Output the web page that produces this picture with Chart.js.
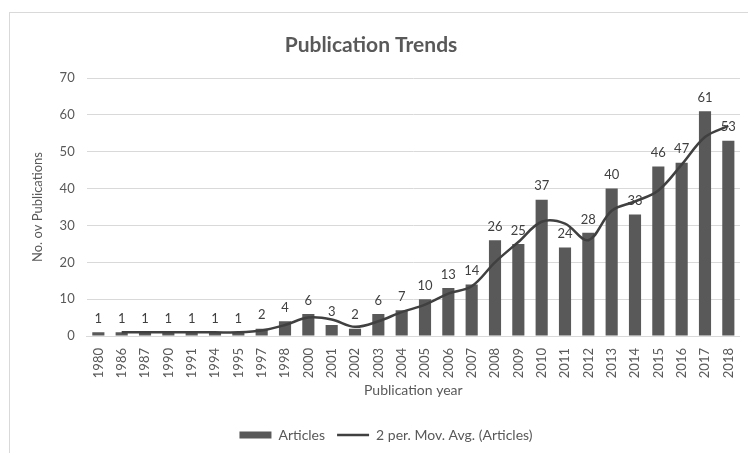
<!DOCTYPE html>
<html>
<head>
<meta charset="utf-8">
<script src="https://cdn.jsdelivr.net/npm/chart.js@4"></script>
<style>
  body { margin: 0; background: #fff; }
  #wrap { position: relative; width: 748px; height: 453px; overflow: hidden; }
  #frame { position: absolute; left: 9px; top: 12px; width: 800px; height: 500px;
           border-left: 1px solid #d9d9d9; border-top: 1px solid #d9d9d9; }
  canvas { position: absolute; left: 0; top: 0; }
</style>
</head>
<body>
<div id="wrap">
  <div id="frame"></div>
  <canvas id="chart" width="748" height="453"></canvas>
</div>
<script>
const years = ["1980","1986","1987","1990","1991","1994","1995","1997","1998","2000",
  "2001","2002","2003","2004","2005","2006","2007","2008","2009","2010",
  "2011","2012","2013","2014","2015","2016","2017","2018"];
const articles = [1,1,1,1,1,1,1,2,4,6,3,2,6,7,10,13,14,26,25,37,24,28,40,33,46,47,61,53];
// 2 period moving average
const movAvg = [null,1,1,1,1,1,1,1.5,3,5,4.5,2.5,4,6.5,8.5,11.5,13.5,20,25.5,31,30.5,26,34,36.5,39.5,46.5,54,57];

const fontFam = "Lato, 'Open Sans', sans-serif";
const txt = "#595959";

// value labels above the bars + the chart title
const barLabels = {
  id: "barLabels",
  afterDatasetsDraw(chart) {
    const ctx = chart.ctx;
    const meta = chart.getDatasetMeta(0);
    ctx.save();
    ctx.font = "13px " + fontFam;
    ctx.fillStyle = "#404040";
    ctx.textAlign = "center";
    ctx.textBaseline = "bottom";
    meta.data.forEach((bar, i) => {
      ctx.fillText(articles[i], bar.x, bar.y - 7);
    });
    ctx.font = "bold 21px " + fontFam;
    ctx.fillStyle = txt;
    ctx.textBaseline = "middle";
    ctx.fillText("Publication Trends", 371, 45);
    ctx.restore();
  }
};

new Chart(document.getElementById("chart"), {
  data: {
    labels: years,
    datasets: [
      {
        type: "bar",
        label: "Articles",
        data: articles,
        backgroundColor: "#595959",
        barPercentage: 0.52,
        categoryPercentage: 1,
        order: 2
      },
      {
        type: "line",
        label: "2 per. Mov. Avg. (Articles)",
        data: movAvg,
        borderColor: "#404040",
        backgroundColor: "#404040",
        borderWidth: 2.5,
        pointRadius: 0,
        tension: 0.35,
        order: 1
      }
    ]
  },
  options: {
    responsive: false,
    animation: false,
    layout: { padding: { left: 28, top: 78, right: 4, bottom: 1 } },
    plugins: {
      title: { display: false },
      legend: {
        position: "bottom",
        labels: {
          color: txt,
          font: { family: fontFam, size: 14 },
          usePointStyle: true,
          pointStyleWidth: 32,
          boxHeight: 7,
          padding: 12,
          generateLabels(chart) {
            return chart.data.datasets.map((ds, i) => ({
              text: ds.label,
              fillStyle: ds.backgroundColor,
              strokeStyle: ds.borderColor || ds.backgroundColor,
              lineWidth: i === 1 ? 2.5 : 0,
              pointStyle: i === 0 ? "rect" : "line",
              fontColor: txt,
              datasetIndex: i
            }));
          }
        }
      },
      tooltip: { enabled: false }
    },
    scales: {
      x: {
        grid: { display: false },
        border: { color: "#d9d9d9" },
        ticks: { color: txt, font: { family: fontFam, size: 13 }, maxRotation: 90, minRotation: 90, autoSkip: false, padding: 4 },
        title: { display: true, text: "Publication year", color: txt, font: { family: fontFam, size: 14 }, padding: { top: 0, bottom: 17 } }
      },
      y: {
        min: 0, max: 70,
        ticks: { stepSize: 10, color: txt, font: { family: fontFam, size: 13 }, padding: 12 },
        grid: { color: "#d9d9d9", drawTicks: false },
        border: { display: false },
        title: { display: true, text: "No. ov Publications", color: txt, font: { family: fontFam, size: 13 }, padding: 2 }
      }
    }
  },
  plugins: [barLabels]
});
</script>
</body>
</html>
